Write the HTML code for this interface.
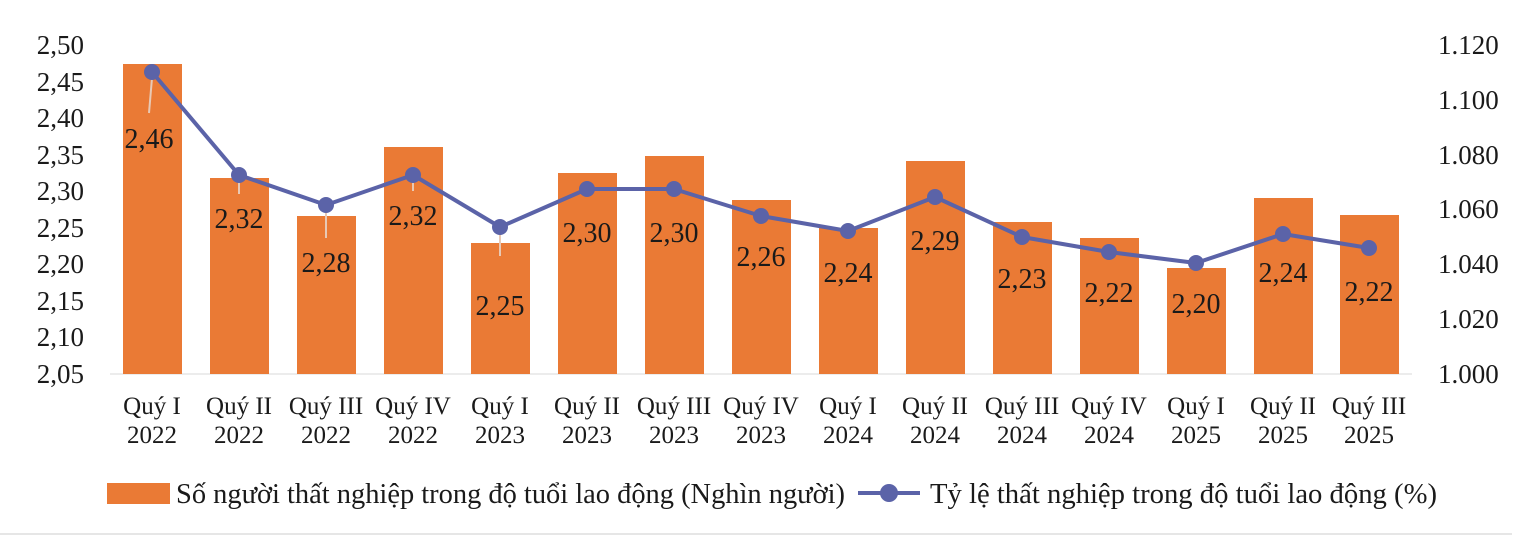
<!DOCTYPE html>
<html><head><meta charset="utf-8"><style>
html,body{margin:0;padding:0;background:#fff;}
svg{display:block;font-family:"Liberation Serif",serif;}
</style></head><body>
<svg width="1533" height="537" viewBox="0 0 1533 537" xmlns="http://www.w3.org/2000/svg">
<rect width="1533" height="537" fill="#fff"/>
<g font-size="27" fill="#1a1a1a" text-anchor="end">
<text x="84" y="54">2,50</text><text x="84" y="91">2,45</text><text x="84" y="127">2,40</text>
<text x="84" y="164">2,35</text><text x="84" y="200">2,30</text><text x="84" y="237">2,25</text>
<text x="84" y="273">2,20</text><text x="84" y="310">2,15</text><text x="84" y="346">2,10</text>
<text x="84" y="383">2,05</text>
</g>
<g font-size="27" fill="#1a1a1a" text-anchor="start">
<text x="1438" y="54">1.120</text><text x="1438" y="109">1.100</text><text x="1438" y="164">1.080</text>
<text x="1438" y="218">1.060</text><text x="1438" y="273">1.040</text><text x="1438" y="328">1.020</text>
<text x="1438" y="383">1.000</text>
</g>
<line x1="110" y1="374" x2="1412" y2="374" stroke="#d9d9d9" stroke-width="1"/>
<g fill="#ea7a35">
<rect x="123" y="64" width="59" height="310"/>
<rect x="210" y="178" width="59" height="196"/>
<rect x="297" y="216" width="59" height="158"/>
<rect x="384" y="147" width="59" height="227"/>
<rect x="471" y="243" width="59" height="131"/>
<rect x="558" y="173" width="59" height="201"/>
<rect x="645" y="156" width="59" height="218"/>
<rect x="732" y="200" width="59" height="174"/>
<rect x="819" y="228" width="59" height="146"/>
<rect x="906" y="161" width="59" height="213"/>
<rect x="993" y="222" width="59" height="152"/>
<rect x="1080" y="238" width="59" height="136"/>
<rect x="1167" y="268" width="59" height="106"/>
<rect x="1254" y="198" width="59" height="176"/>
<rect x="1340" y="215" width="59" height="159"/>
</g>
<g stroke="#e8c9b5" stroke-width="2">
<line x1="152" y1="78" x2="149" y2="113"/>
<line x1="239" y1="180" x2="239" y2="194"/>
<line x1="326" y1="210" x2="326" y2="238"/>
<line x1="413" y1="180" x2="413" y2="191"/>
<line x1="500" y1="232" x2="500" y2="256"/>
</g>
<polyline fill="none" stroke="#5b63a8" stroke-width="4" stroke-linejoin="round"
points="152,72 239,175 326,205 413,175 500,227 587,189 674,189 761,216 848,231 935,197 1022,237 1109,252 1196,263 1283,234 1369,248"/>
<g fill="#5b63a8">
<circle cx="152" cy="72" r="8"/><circle cx="239" cy="175" r="8"/><circle cx="326" cy="205" r="8"/>
<circle cx="413" cy="175" r="8"/><circle cx="500" cy="227" r="8"/><circle cx="587" cy="189" r="8"/>
<circle cx="674" cy="189" r="8"/><circle cx="761" cy="216" r="8"/><circle cx="848" cy="231" r="8"/>
<circle cx="935" cy="197" r="8"/><circle cx="1022" cy="237" r="8"/><circle cx="1109" cy="252" r="8"/>
<circle cx="1196" cy="263" r="8"/><circle cx="1283" cy="234" r="8"/><circle cx="1369" cy="248" r="8"/>
</g>
<g font-size="28" fill="#1a1a1a" text-anchor="middle">
<text x="149" y="148">2,46</text><text x="239" y="228">2,32</text><text x="326" y="272">2,28</text>
<text x="413" y="225">2,32</text><text x="500" y="315">2,25</text><text x="587" y="242">2,30</text>
<text x="674" y="242">2,30</text><text x="761" y="266">2,26</text><text x="848" y="282">2,24</text>
<text x="935" y="250">2,29</text><text x="1022" y="288">2,23</text><text x="1109" y="302">2,22</text>
<text x="1196" y="313">2,20</text><text x="1283" y="282">2,24</text><text x="1369" y="301">2,22</text>
</g>
<g font-size="25" fill="#1a1a1a" text-anchor="middle">
<text x="152" y="414">Quý I</text><text x="152" y="443">2022</text>
<text x="239" y="414">Quý II</text><text x="239" y="443">2022</text>
<text x="326" y="414">Quý III</text><text x="326" y="443">2022</text>
<text x="413" y="414">Quý IV</text><text x="413" y="443">2022</text>
<text x="500" y="414">Quý I</text><text x="500" y="443">2023</text>
<text x="587" y="414">Quý II</text><text x="587" y="443">2023</text>
<text x="674" y="414">Quý III</text><text x="674" y="443">2023</text>
<text x="761" y="414">Quý IV</text><text x="761" y="443">2023</text>
<text x="848" y="414">Quý I</text><text x="848" y="443">2024</text>
<text x="935" y="414">Quý II</text><text x="935" y="443">2024</text>
<text x="1022" y="414">Quý III</text><text x="1022" y="443">2024</text>
<text x="1109" y="414">Quý IV</text><text x="1109" y="443">2024</text>
<text x="1196" y="414">Quý I</text><text x="1196" y="443">2025</text>
<text x="1283" y="414">Quý II</text><text x="1283" y="443">2025</text>
<text x="1369" y="414">Quý III</text><text x="1369" y="443">2025</text>
</g>
<rect x="107" y="483" width="63" height="21" fill="#ea7a35"/>
<text x="176" y="503" font-size="28.4" fill="#1a1a1a" textLength="669" lengthAdjust="spacingAndGlyphs">Số người thất nghiệp trong độ tuổi lao động (Nghìn người)</text>
<line x1="858" y1="493" x2="920" y2="493" stroke="#5b63a8" stroke-width="4"/>
<circle cx="889" cy="493" r="9" fill="#5b63a8"/>
<text x="930" y="503" font-size="28.4" fill="#1a1a1a" textLength="507" lengthAdjust="spacingAndGlyphs">Tỷ lệ thất nghiệp trong độ tuổi lao động (%)</text>
<line x1="0" y1="534" x2="1512" y2="534" stroke="#e6e6e6" stroke-width="2"/>
</svg>
</body></html>
